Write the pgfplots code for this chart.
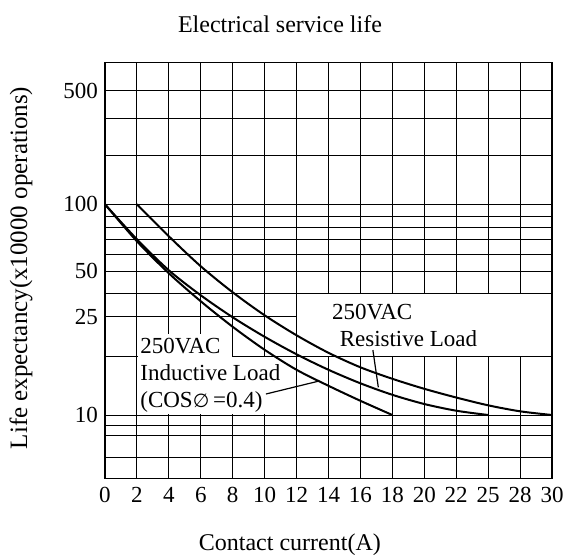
\documentclass[border=0pt]{standalone}
\usepackage{fontspec}
\setmainfont{Liberation Serif}
\newfontfamily\djv{DejaVu Sans}
\usepackage{pgfplots}
\pgfplotsset{compat=1.18}
\begin{document}
\begin{tikzpicture}
\useasboundingbox (-52.5pt,-37.85pt) rectangle (231pt,239.15pt);
\begin{axis}[
  scale only axis, width=223.5pt, height=208pt,
  xmin=0, xmax=14, ymin=0, ymax=416,
  clip=false,
  xtick={0,...,14},
  xticklabels={0,2,4,6,8,10,12,14,16,18,20,22,25,28,30},
  ytick={63.3,161.6,207.3,274,387.6},
  yticklabels={10,25,50,100,500},
  extra y ticks={21,42.6,53.3,121.6,185,224,239.3,251,261.6,323.3,359.6},
  extra y tick labels={},
  extra y tick style={grid=major, major tick length=0pt},
  grid=major,
  major grid style={black, line width=0.5pt},
  axis line style={black, line width=0.6pt},
  major tick length=0pt,
  tick label style={font=\fontsize{11.5}{13}\selectfont},
  xticklabel style={yshift=-1pt},
]
% white label areas
\fill[white] ([xshift=0.35pt,yshift=0.35pt]axis cs:6,121.6) rectangle ([xshift=-0.35pt,yshift=-0.35pt]axis cs:14,185);
\fill[white] ([xshift=0.35pt]axis cs:1,118) rectangle ([xshift=-0.35pt]axis cs:4,144.3);
\fill[white] ([xshift=0.35pt,yshift=0.35pt]axis cs:1,63.3) rectangle ([xshift=-0.35pt,yshift=-0.35pt]axis cs:6,121.6);
% curves
\addplot[black, line width=1pt, smooth] coordinates {
(1,274) (2,242) (3,212) (4,186) (5,163) (6,143) (7,125.5) (8,111) (9,99.5) (10,89.5) (11,80.8) (12,73) (13,67) (14,63.3)};
\addplot[black, line width=1pt, smooth] coordinates {
(0,274) (1,239) (2,208) (3,183) (4,161) (5,141.5) (6,124) (7,108.5) (8,95) (9,83.5) (10,74.3) (11,67.6) (12,63.3)};
\addplot[black, line width=1pt, smooth] coordinates {
(0,274) (1,237) (2,205) (3,177) (4,151.5) (5,128.5) (6,108.5) (7,92.5) (8,77.5) (9,63.3)};
% pointers
\draw[black, line width=0.6pt] (axis cs:8.39,128.3) -- (axis cs:8.56,91);
\draw[black, line width=0.6pt] (axis cs:5.04,84.3) -- (axis cs:6.67,97);
% labels
\begin{scope}[every node/.style={font=\fontsize{11.5}{13}\selectfont, inner sep=0pt, anchor=base west}]
\node at (axis cs:1.096,125) {250VAC};
\node at (axis cs:1.096,97.6) {Inductive Load};
\node at (axis cs:1.096,70.6) {(COS{\djv\fontsize{9.5}{12}\selectfont ∅}\,=0.4)};
\node at (axis cs:7.10,159) {250VAC};
\node at (axis cs:7.34,131.6) {Resistive Load};
\end{scope}
\node[anchor=base, font=\fontsize{12}{14}\selectfont, inner sep=0pt] at (axis cs:5.48,446.3) {Electrical service life};
\node[anchor=base, font=\fontsize{12}{14}\selectfont, inner sep=0pt] at (axis cs:5.79,-71.7) {Contact current(A)};
\node[anchor=center, rotate=90, font=\fontsize{12.5}{14}\selectfont, inner sep=0pt] at (axis cs:-2.63,210.3) {Life expectancy(x10000 operations)};
\end{axis}
\end{tikzpicture}
\end{document}
